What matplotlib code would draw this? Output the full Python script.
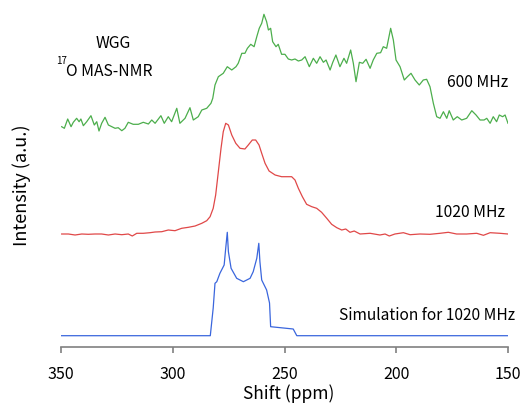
import matplotlib
matplotlib.use("Agg")
import matplotlib.pyplot as plt
import numpy as np

plt.rcParams['font.family'] = ['Noto Sans CJK JP', 'DejaVu Sans']

# 600 MHz spectrum (ppm, intensity a.u.)
ppm_600 = [349.7, 348.5, 347.0, 345.5, 344.5, 343.0, 341.9, 341.1, 340.0, 338.5,
           336.6, 335.1, 334.0, 333.0, 331.8, 330.3, 328.8, 327.3, 325.8, 324.4,
           322.8, 321.4, 319.9, 317.7, 315.4, 313.2, 310.9, 309.4, 307.9, 305.3,
           303.8, 302.0, 300.5, 298.2, 296.8, 294.5, 292.3, 290.8, 288.6, 287.0,
           284.8, 282.9, 282.1, 281.1, 279.6, 277.4, 275.6, 273.6, 271.7, 270.7,
           269.1, 267.7, 266.6, 265.1, 263.6, 262.4, 261.3, 260.2, 259.2, 258.0,
           257.2, 256.2, 255.3, 253.8, 252.8, 251.3, 249.8, 248.3, 246.8, 245.3,
           243.8, 242.3, 240.8, 238.9, 237.1, 235.6, 234.1, 232.6, 231.4, 229.6,
           228.4, 227.0, 225.2, 223.4, 222.2, 220.4, 219.2, 218.0, 216.5, 215.0,
           213.5, 211.7, 210.3, 208.7, 207.0, 205.8, 204.3, 202.5, 201.3, 200.1,
           198.3, 196.4, 195.0, 193.4, 191.6, 189.7, 187.9, 186.4, 184.9, 183.4,
           181.9, 180.4, 178.9, 177.4, 176.3, 174.5, 172.7, 170.7, 168.5, 166.2,
           164.3, 162.5, 160.7, 159.5, 158.0, 156.6, 155.1, 153.9, 152.4, 151.3,
           150.0]
int_600 = [-0.7, -2.3, 7, -0.7, 3.7, 7.7, 4.3, 7, 0.3, 4.3,
           10.3, 1, 4.3, -5, 2.7, 8.7, 1, -0.7, -2.3, -1.7,
           -4.7, -2.3, 3.7, 1.7, 1.7, 3.7, 2, 6, 2.7, 10.3,
           2.7, 9.3, 4.3, 17.7, 2.7, 7.7, 18.3, 6, 9.3, 16,
           17.7, 22.7, 27.7, 41, 49.3, 52.7, 59.3, 56, 59.3, 62.7,
           72.7, 72.7, 77.7, 81.7, 79.3, 89.3, 97.7, 102.7, 111.7, 104.3,
           96, 97.7, 84.3, 79.3, 81.7, 71.7, 71.7, 67, 66, 67,
           65, 66, 69.3, 59.3, 67.7, 62.7, 69.3, 63.7, 66, 56,
           63.7, 71, 59.3, 67.7, 62.7, 76, 62.7, 44.3, 63.7, 62.7,
           66.7, 57.7, 66, 72.7, 73.3, 79.3, 77.7, 97.7, 86, 66,
           59.3, 46, 49.3, 52.7, 46, 41, 46, 46.7, 39.3, 22.7,
           9.3, 7.7, 14.3, 7.7, 15.3, 6, 9.3, 6, 7.7, 15.3,
           11, 6, 6, 7.7, 2.7, 9.3, 4.3, 11, 9.3, 11,
           2.7]

# 1020 MHz spectrum
ppm_1020 = [349.7, 346.7, 343.7, 340.7, 337.8, 334.8, 331.8, 328.8, 325.8, 322.8,
            319.9, 318.1, 316.1, 313.2, 310.2, 307.9, 304.9, 302.0, 299.0, 296.0,
            293.0, 290.0, 287.0, 284.8, 283.3, 281.9, 280.8, 279.6, 278.4, 277.4,
            276.3, 275.1, 273.6, 271.8, 269.9, 267.7, 266.2, 264.4, 262.9, 261.4,
            260.2, 258.7, 256.9, 254.2, 251.3, 249.0, 246.8, 245.3, 243.8, 242.0,
            240.1, 237.8, 235.6, 233.4, 231.1, 228.9, 226.6, 224.4, 222.6, 220.7,
            218.8, 216.2, 211.7, 207.3, 205.0, 203.1, 200.6, 196.8, 193.8, 189.4,
            184.9, 180.4, 176.7, 173.0, 168.5, 164.0, 161.0, 158.0, 153.6, 150.0]
int_1020 = [0, 0, -1, 0, -0.3, 0, 0, -1, 0, -0.7,
            0, -2, 0.7, 0.7, 1.3, 2, 2.3, 4, 3.3, 5.7,
            6.7, 8, 10.7, 13.3, 17.3, 25.7, 39, 62.3, 85.7, 102.3,
            110.7, 109, 99, 90.7, 85.7, 85, 89, 94, 94, 89,
            80.7, 70.7, 63, 59, 57.3, 57.3, 57.3, 54, 45.7, 37.3,
            29.7, 27.3, 25.7, 21.7, 15.7, 9.7, 6.3, 4, 5, 1.7,
            3, 0, 0.7, -1, 0, -2, 0, 1.3, -0.7, 0,
            -0.3, 0.7, 1.7, 0, 0, 0.7, -1.3, 1.3, 0.7, 0]

# simulation for 1020 MHz
ppm_sim = [350.0, 283.2, 281.9, 281.1, 280.3, 278.9, 277.0, 276.3, 275.6, 275.1,
           273.9, 271.4, 268.4, 265.4, 264.0, 262.4, 261.5, 261.0, 260.2, 258.0,
           256.7, 256.2, 246.1, 244.5, 150.0]
int_sim = [0, 0, 27.7, 52.4, 54, 62.4, 70.7, 87.4, 103.4, 84,
           67.4, 57.4, 54, 57.4, 64, 77.4, 92.4, 74, 55.7, 45.7,
           32.7, 9, 6.7, 0, 0]

fig = plt.figure(figsize=(5.25, 4.03), dpi=100)
ax = fig.add_axes([61 / 525, 56 / 403, 447 / 525, 347 / 403])

ax.plot(ppm_600, np.array(int_600) + 221, color='#4cae4c', lw=0.9)
ax.plot(ppm_1020, np.array(int_1020) + 113, color='#e04848', lw=0.9)
ax.plot(ppm_sim, np.array(int_sim) + 11.3, color='#3a66dd', lw=0.9)

ax.set_xlim(350, 150)
ax.set_ylim(0, 347)
ax.set_xticks([350, 300, 250, 200, 150])
for s in ['left', 'right', 'top']:
    ax.spines[s].set_visible(False)
ax.spines['bottom'].set_color('#808080')
ax.spines['bottom'].set_linewidth(1.2)
ax.set_yticks([])
ax.tick_params(axis='x', direction='out', length=4.5, width=1.2, color='#808080',
               labelsize=11.5, pad=9.5)

ax.text(326.7, 303.5, 'WGG', ha='center', va='center', fontsize=11.3)
ax.text(352.3, 286.5, '17', ha='left', va='center', fontsize=7)
ax.text(347.6, 276, 'O MAS-NMR', ha='left', va='center', fontsize=11.3)
ax.text(150, 265, '600 MHz', ha='right', va='center', fontsize=11.3)
ax.text(151.3, 134.5, '1020 MHz', ha='right', va='center', fontsize=11.3)
ax.text(146.9, 32, 'Simulation for 1020 MHz', ha='right', va='center',
        fontsize=11.2, clip_on=False)

fig.text(22 / 525, 1 - 185 / 403, 'Intensity (a.u.)', rotation=90,
         ha='center', va='center', fontsize=13)
fig.text(289 / 525, 1 - 394 / 403, 'Shift (ppm)', ha='center', va='center',
         fontsize=12.5)

fig.savefig('out.png', dpi=100)
